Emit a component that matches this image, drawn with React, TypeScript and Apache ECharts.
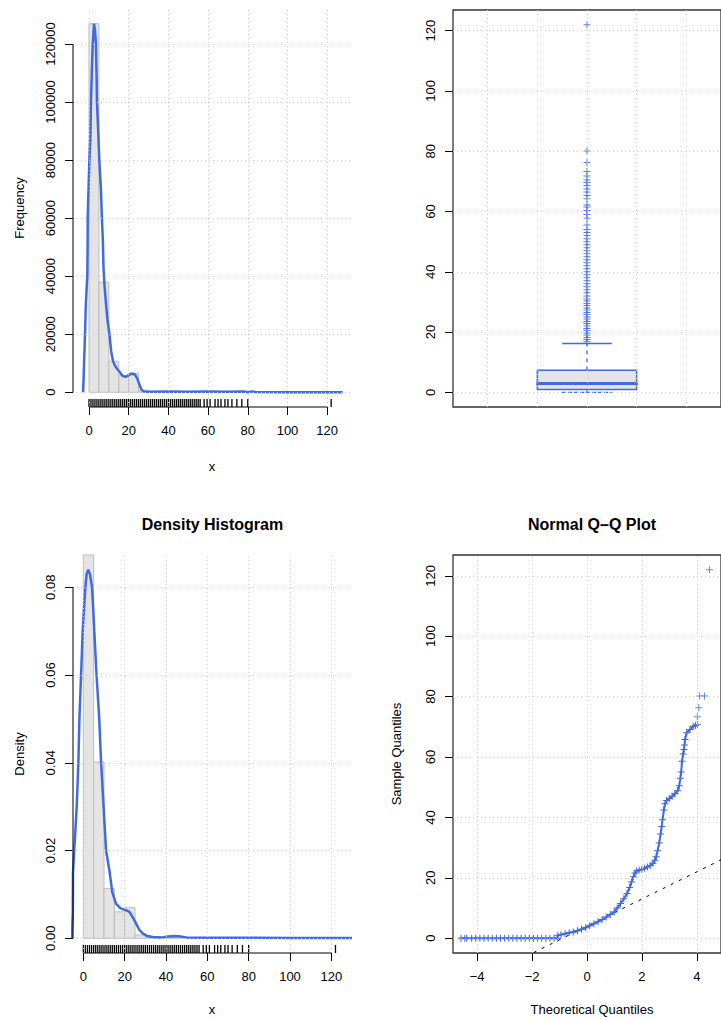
import React, { useEffect, useRef } from "react";
import * as echarts from "echarts";

const FONT = "'Liberation Sans', Arial, Helvetica, sans-serif";
const BLUE = "#4169e1";
const BAR_FILL = "#e4e4e4";
const BAR_EDGE = "#bdbdbd";
const GRID_COLOR = "#d0d0d0";

// ---- histogram bins (width 5) ----
const binWidth = 5;
const binStarts = [0, 5, 10, 15, 20, 25, 30, 35, 40, 45, 50, 55, 60, 65, 70, 75, 80, 85, 90, 95, 100, 105, 110, 115, 120];
const binCounts = [127000, 38000, 10700, 5700, 6600, 700, 150, 60, 120, 90, 40, 20, 15, 20, 10, 5, 3, 0, 0, 0, 0, 0, 0, 0, 1];

// ---- kernel density scaled to counts (top-left) ----
const freqCurve: number[][] = [
  [-3.0, 0], [-2.8, 3000], [-2.4, 12000], [-2.0, 20000], [-1.6, 30000], [-1.1, 37000], [-0.85, 40000],
  [-0.7, 50000], [-0.65, 60000], [-0.2, 71000], [0.2, 80000], [0.7, 88000], [1.0, 100000], [1.5, 112000],
  [1.9, 120000], [2.5, 127000], [3.0, 125000], [3.5, 120000], [3.9, 106000], [4.0, 100000], [4.4, 94000],
  [5.2, 80000], [6.0, 70000], [6.5, 60000], [7.0, 52000], [7.3, 43000], [7.8, 37000], [8.5, 31000],
  [9.3, 25000], [10.3, 20000], [11.2, 14000], [12.0, 11000], [12.8, 9500], [14.0, 8200], [15.5, 7000],
  [17.0, 5600], [18.5, 5300], [20.0, 5900], [21.5, 6400], [23.0, 6200], [24.3, 4800], [25.5, 2500],
  [26.5, 900], [27.5, 300], [30, 200], [40, 250], [50, 200], [60, 250], [70, 200], [78, 250], [80, 0],
  [82, 300], [84, 100], [100, 0], [127.8, 0],
];

// ---- probability density (bottom-left) ----
const densityCurve: number[][] = [
  [-5.6, 0], [-5.1, 0.006], [-5.0, 0.015], [-4.4, 0.02], [-3.2, 0.03], [-2.4, 0.04], [-1.9, 0.05],
  [-1.1, 0.06], [-0.3, 0.07], [0.3, 0.075], [1.0, 0.08], [1.6, 0.083], [2.4, 0.084], [3.2, 0.083],
  [4.2, 0.08], [4.8, 0.075], [5.3, 0.07], [6.4, 0.06], [7.7, 0.05], [8.6, 0.04], [9.8, 0.03], [11.0, 0.02],
  [12.6, 0.0155], [14.0, 0.0105], [15.8, 0.0079], [18.0, 0.0068], [20.5, 0.0064], [22.3, 0.006],
  [24.0, 0.0047], [25.5, 0.0034], [27.0, 0.002], [28.7, 0.0011], [31, 0.0005], [33.6, 0.0003],
  [38, 0.0002], [41, 0.0004], [44, 0.0005], [47, 0.0004], [50, 0.0002], [60, 0.0001], [80, 0.0001],
  [100, 0.00005], [130, 0.00005],
];

// ---- distinct observed values (rug) ----
const rugValues = [
  0, 1, 2, 3, 4, 5, 6, 7, 8, 9, 10, 11, 12, 13, 14, 15, 16, 17, 18, 19, 20, 21, 22, 23, 24, 25, 26, 27, 28,
  29, 30, 31, 32, 33, 34, 35, 36, 37, 38, 39, 40, 41, 42, 43, 44, 45, 46, 47, 48, 49, 50, 51, 52, 53, 54,
  55, 56, 58, 59.5, 61, 63.5, 65, 66.5, 68.5, 70, 72, 74.5, 77, 80, 122,
];

// ---- boxplot: [position, lower whisker, Q1, median, Q3, upper whisker] ----
const boxStats = [1, 0, 0.9, 2.9, 7.3, 16.2];
const boxOutliers = [
  16.8, 17.5, 18.2, 19, 19.7, 20.5, 21.2, 22, 22.8, 23.5, 24.3, 25, 25.8, 26.5, 27.3, 28, 28.8, 29.5, 30.3,
  31, 32, 33, 34, 35, 36, 37, 38, 39, 40, 41, 42, 43, 44, 45, 46, 47, 48, 49, 50, 51, 52, 53, 54, 55.5,
  57.8, 59, 60.3, 61.5, 62.2, 64.2, 65.3, 66.5, 67.5, 68.6, 69.6, 70.5, 71.8, 73.3, 76.3, 80.1, 122,
];

// ---- normal Q-Q: [theoretical quantile, sample quantile] ----
const qqBody: number[][] = [
  [-4.59, 0], [-4.45, 0], [-4.38, 0], [-4.2, 0], [-4.05, 0], [-3.9, 0], [-3.75, 0], [-3.6, 0], [-3.45, 0],
  [-3.3, 0], [-3.15, 0], [-3.0, 0], [-2.85, 0], [-2.7, 0], [-2.55, 0], [-2.4, 0], [-2.25, 0], [-2.1, 0],
  [-1.95, 0], [-1.8, 0], [-1.65, 0], [-1.5, 0], [-1.35, 0], [-1.2, 0], [-1.08, 0],
  [-1.06, 1.0], [-0.95, 1.2], [-0.8, 1.5], [-0.65, 1.8], [-0.5, 2.1], [-0.35, 2.5], [-0.2, 3.0],
  [-0.05, 3.5], [0.1, 4.1], [0.25, 4.8], [0.4, 5.5], [0.55, 6.2], [0.7, 7.0], [0.85, 7.9], [0.99, 8.7],
  [1.1, 10], [1.22, 11.5], [1.34, 13.1], [1.46, 14.8], [1.55, 16.8], [1.62, 18.6], [1.69, 20.4],
  [1.75, 21.6], [1.81, 22.3], [1.9, 22.6], [2.0, 22.8], [2.1, 23.2], [2.2, 23.6], [2.3, 24.1], [2.4, 24.8],
  [2.47, 25.8], [2.52, 27], [2.57, 29], [2.63, 31.5], [2.68, 34.5], [2.72, 37], [2.75, 39.2], [2.8, 42.5],
  [2.84, 44.5], [2.9, 45.6], [3.0, 46.3], [3.1, 47], [3.2, 47.8], [3.3, 48.8], [3.36, 50.5], [3.4, 53],
  [3.43, 55], [3.46, 58.6], [3.5, 61], [3.53, 62.5], [3.55, 64], [3.57, 65.8], [3.63, 68], [3.75, 69.1],
  [3.87, 70.2], [3.95, 70.4],
];
const qqTail: number[][] = [[4.02, 70.8], [4.02, 73.3], [4.07, 76.3], [4.1, 80.2], [4.28, 80.2], [4.46, 122]];
const qqIntercept = 4.0;
const qqSlope = 4.5;

// ---- tick values ----
const xTicks = [0, 20, 40, 60, 80, 100, 120];
const freqTicks = [0, 20000, 40000, 60000, 80000, 100000, 120000];
const densTicks = [0, 0.02, 0.04, 0.06, 0.08];
const sampleTicks = [0, 20, 40, 60, 80, 100, 120];
const theoTicks = [-4, -2, 0, 2, 4];
const boxGridX = [0.6, 0.8, 1.0, 1.2, 1.4];

// ---- axis limits (4% padding around the data range) ----
const H_X = [-8.06, 132.5];
const H_Y = [-5080, 132080];
const D_X = [-5, 130];
const D_Y = [-0.00336, 0.08736];
const B_X = [0.46, 1.54];
const Q_X = [-4.88, 4.88];
const S_Y = [-4.88, 126.88];

const PLUS = "path://M3,0H4V3H7V4H4V7H3V4H0V3H3Z";
const textStyle = { fontFamily: FONT, fontSize: 13, color: "#000" };

function axis(gridIndex: number, lim: number[], ticks: number[], fmt: (v: number) => string, rotate = 0) {
  return {
    type: "value",
    gridIndex,
    min: lim[0],
    max: lim[1],
    axisLine: { show: false, onZero: false },
    axisTick: { show: ticks.length > 0, customValues: ticks, length: 8, lineStyle: { color: "#000", width: 1 } },
    axisLabel: {
      show: ticks.length > 0,
      customValues: ticks,
      formatter: fmt,
      rotate,
      margin: rotate ? 16 : 17,
      ...textStyle,
    },
    splitLine: { show: false },
  };
}

function gridLines(xi: number, xs: number[], ys: number[]) {
  return {
    type: "line",
    xAxisIndex: xi,
    yAxisIndex: xi,
    data: [[xs[0], ys[0]]],
    symbol: "none",
    lineStyle: { opacity: 0 },
    silent: true,
    z: 1,
    markLine: {
      silent: true,
      symbol: ["none", "none"],
      label: { show: false },
      lineStyle: { color: GRID_COLOR, type: [1, 3], width: 1 },
      data: [...xs.map((v) => ({ xAxis: v })), ...ys.map((v) => ({ yAxis: v }))],
    },
  };
}

function histSeries(xi: number, values: number[]) {
  return {
    type: "custom",
    xAxisIndex: xi,
    yAxisIndex: xi,
    z: 2,
    data: binStarts.map((s, i) => [s, s + binWidth, values[i]]),
    renderItem: (params: any, api: any) => {
      const p0 = api.coord([api.value(0), 0]);
      const p1 = api.coord([api.value(1), api.value(2)]);
      const cs = params.coordSys;
      const r = echarts.graphic.clipRectByRect(
        { x: p0[0], y: p1[1], width: p1[0] - p0[0], height: p0[1] - p1[1] },
        { x: cs.x, y: cs.y, width: cs.width, height: cs.height }
      );
      if (!r) return null;
      return { type: "rect", shape: r, style: { fill: BAR_FILL, stroke: BAR_EDGE, lineWidth: 1 } };
    },
  };
}

function rugSeries(xi: number) {
  return {
    type: "custom",
    xAxisIndex: xi,
    yAxisIndex: xi,
    z: 3,
    data: rugValues.map((v) => [v]),
    renderItem: (params: any, api: any) => {
      const cs = params.coordSys;
      const x = api.coord([api.value(0), 0])[0];
      const b = cs.y + cs.height;
      return { type: "line", shape: { x1: x, y1: b, x2: x, y2: b - 8 }, style: { stroke: "#000", lineWidth: 1.3 } };
    },
  };
}

function axisLineSeries(xi: number, pts: number[][]) {
  return {
    type: "line",
    xAxisIndex: xi,
    yAxisIndex: xi,
    data: pts,
    symbol: "none",
    clip: false,
    silent: true,
    z: 5,
    lineStyle: { color: "#000", width: 1 },
  };
}

const total = binCounts.reduce((a, b) => a + b, 0);
const binDensity = binCounts.map((c) => c / (total * binWidth));

export default function App() {
  const ref = useRef<HTMLDivElement>(null);

  useEffect(() => {
    if (!ref.current) return;
    const chart = echarts.init(ref.current, undefined, { renderer: "svg" });

    const option: any = {
      animation: false,
      backgroundColor: "#fff",
      grid: [
        { left: 73, top: 9, width: 279, height: 398, show: false },
        { left: 453, top: 10, width: 278, height: 397, show: true, borderColor: "#333", borderWidth: 1.3, backgroundColor: "transparent" },
        { left: 73, top: 555, width: 279, height: 398, show: false },
        { left: 453, top: 555, width: 277, height: 398, show: true, borderColor: "#333", borderWidth: 1.3, backgroundColor: "transparent" },
      ],
      xAxis: [
        axis(0, H_X, xTicks, (v) => String(v)),
        axis(1, B_X, [], (v) => String(v)),
        axis(2, D_X, xTicks, (v) => String(v)),
        axis(3, Q_X, theoTicks, (v) => (v < 0 ? "\u2212" + Math.abs(v) : String(v))),
      ],
      yAxis: [
        axis(0, H_Y, freqTicks, (v) => String(v), 90),
        axis(1, S_Y, sampleTicks, (v) => String(v), 90),
        axis(2, D_Y, densTicks, (v) => v.toFixed(2), 90),
        axis(3, S_Y, sampleTicks, (v) => String(v), 90),
      ],
      series: [
        // top-left: frequency histogram
        gridLines(0, xTicks, freqTicks),
        histSeries(0, binCounts),
        { type: "line", xAxisIndex: 0, yAxisIndex: 0, data: freqCurve, symbol: "none", z: 4, lineStyle: { color: BLUE, width: 2.5 } },
        rugSeries(0),
        axisLineSeries(0, [[H_X[0], freqTicks[0]], [H_X[0], freqTicks[freqTicks.length - 1]]]),
        axisLineSeries(0, [[xTicks[0], H_Y[0]], [xTicks[xTicks.length - 1], H_Y[0]]]),

        // top-right: boxplot
        gridLines(1, boxGridX, sampleTicks),
        {
          type: "custom",
          xAxisIndex: 1,
          yAxisIndex: 1,
          z: 3,
          data: [boxStats],
          renderItem: (params: any, api: any) => {
            const c = api.value(0);
            const lo = api.coord([c, api.value(1)]);
            const q1 = api.coord([c - 0.2, api.value(2)]);
            const md = api.coord([c - 0.2, api.value(3)]);
            const q3 = api.coord([c + 0.2, api.value(4)]);
            const hi = api.coord([c, api.value(5)]);
            const capL = api.coord([c - 0.1, 0])[0];
            const capR = api.coord([c + 0.1, 0])[0];
            const cx = lo[0];
            return {
              type: "group",
              children: [
                { type: "line", shape: { x1: cx, y1: q3[1], x2: cx, y2: hi[1] }, style: { stroke: BLUE, lineWidth: 1.3, lineDash: [4, 4] } },
                { type: "line", shape: { x1: cx, y1: q1[1], x2: cx, y2: lo[1] }, style: { stroke: BLUE, lineWidth: 1.3, lineDash: [4, 4] } },
                { type: "line", shape: { x1: capL, y1: hi[1], x2: capR, y2: hi[1] }, style: { stroke: BLUE, lineWidth: 1.5 } },
                { type: "line", shape: { x1: capL, y1: lo[1], x2: capR, y2: lo[1] }, style: { stroke: BLUE, lineWidth: 1.3, lineDash: [4, 2] } },
                { type: "rect", shape: { x: q1[0], y: q3[1], width: q3[0] - q1[0], height: q1[1] - q3[1] }, style: { fill: BAR_FILL, stroke: BLUE, lineWidth: 1.5 } },
                { type: "line", shape: { x1: md[0] - 1, y1: md[1], x2: q3[0] + 1, y2: md[1] }, style: { stroke: BLUE, lineWidth: 3 } },
              ],
            };
          },
        },
        {
          type: "scatter",
          xAxisIndex: 1,
          yAxisIndex: 1,
          z: 4,
          data: boxOutliers.map((v) => [boxStats[0], v]),
          symbol: PLUS,
          symbolSize: 7,
          itemStyle: { color: BLUE, opacity: 0.85 },
        },

        // bottom-left: density histogram
        gridLines(2, xTicks, densTicks),
        histSeries(2, binDensity),
        { type: "line", xAxisIndex: 2, yAxisIndex: 2, data: densityCurve, symbol: "none", z: 4, lineStyle: { color: BLUE, width: 2.5 } },
        rugSeries(2),
        axisLineSeries(2, [[D_X[0], densTicks[0]], [D_X[0], densTicks[densTicks.length - 1]]]),
        axisLineSeries(2, [[xTicks[0], D_Y[0]], [xTicks[xTicks.length - 1], D_Y[0]]]),

        // bottom-right: normal Q-Q
        gridLines(3, theoTicks, sampleTicks),
        {
          type: "line",
          xAxisIndex: 3,
          yAxisIndex: 3,
          z: 3,
          data: [
            [Q_X[0], qqIntercept + qqSlope * Q_X[0]],
            [Q_X[1], qqIntercept + qqSlope * Q_X[1]],
          ],
          symbol: "none",
          lineStyle: { color: "#000", width: 1, type: [3, 6] },
        },
        {
          type: "line",
          xAxisIndex: 3,
          yAxisIndex: 3,
          z: 4,
          data: qqBody,
          symbol: PLUS,
          symbolSize: 7,
          showSymbol: true,
          showAllSymbol: true,
          lineStyle: { color: BLUE, width: 2 },
          itemStyle: { color: BLUE },
        },
        {
          type: "scatter",
          xAxisIndex: 3,
          yAxisIndex: 3,
          z: 4,
          data: qqTail,
          symbol: PLUS,
          symbolSize: 7,
          itemStyle: { color: BLUE },
        },
      ],
      graphic: [
        { type: "text", x: 19, y: 208, z: 1, rotation: Math.PI / 2, style: { text: "Frequency", font: `13px ${FONT}`, fill: "#000", align: "center", verticalAlign: "middle" } },
        { type: "text", x: 19, y: 754, z: 1, rotation: Math.PI / 2, style: { text: "Density", font: `13px ${FONT}`, fill: "#000", align: "center", verticalAlign: "middle" } },
        { type: "rect", z: 50, shape: { x: 0, y: 0, width: 15, height: 1019 }, style: { fill: "#fff" } },
        { type: "text", x: 212, y: 466, style: { text: "x", font: `13px ${FONT}`, fill: "#000", align: "center", verticalAlign: "middle" } },
        { type: "text", x: 212, y: 1009, style: { text: "x", font: `13px ${FONT}`, fill: "#000", align: "center", verticalAlign: "middle" } },
        { type: "text", x: 212.5, y: 524, style: { text: "Density Histogram", font: `bold 16px ${FONT}`, fill: "#000", align: "center", verticalAlign: "middle" } },
        { type: "text", x: 592, y: 524, style: { text: "Normal Q\u2013Q Plot", font: `bold 16px ${FONT}`, fill: "#000", align: "center", verticalAlign: "middle" } },
        { type: "text", x: 592, y: 1009, style: { text: "Theoretical Quantiles", font: `13px ${FONT}`, fill: "#000", align: "center", verticalAlign: "middle" } },
        { type: "text", x: 396, y: 754, rotation: Math.PI / 2, style: { text: "Sample Quantiles", font: `13px ${FONT}`, fill: "#000", align: "center", verticalAlign: "middle" } },
      ],
    };

    chart.setOption(option);
    return () => chart.dispose();
  }, []);

  return (
    <div
      ref={ref}
      style={{ position: "absolute", left: 0, top: 0, width: 721, height: 1019, background: "#fff" }}
    />
  );
}
